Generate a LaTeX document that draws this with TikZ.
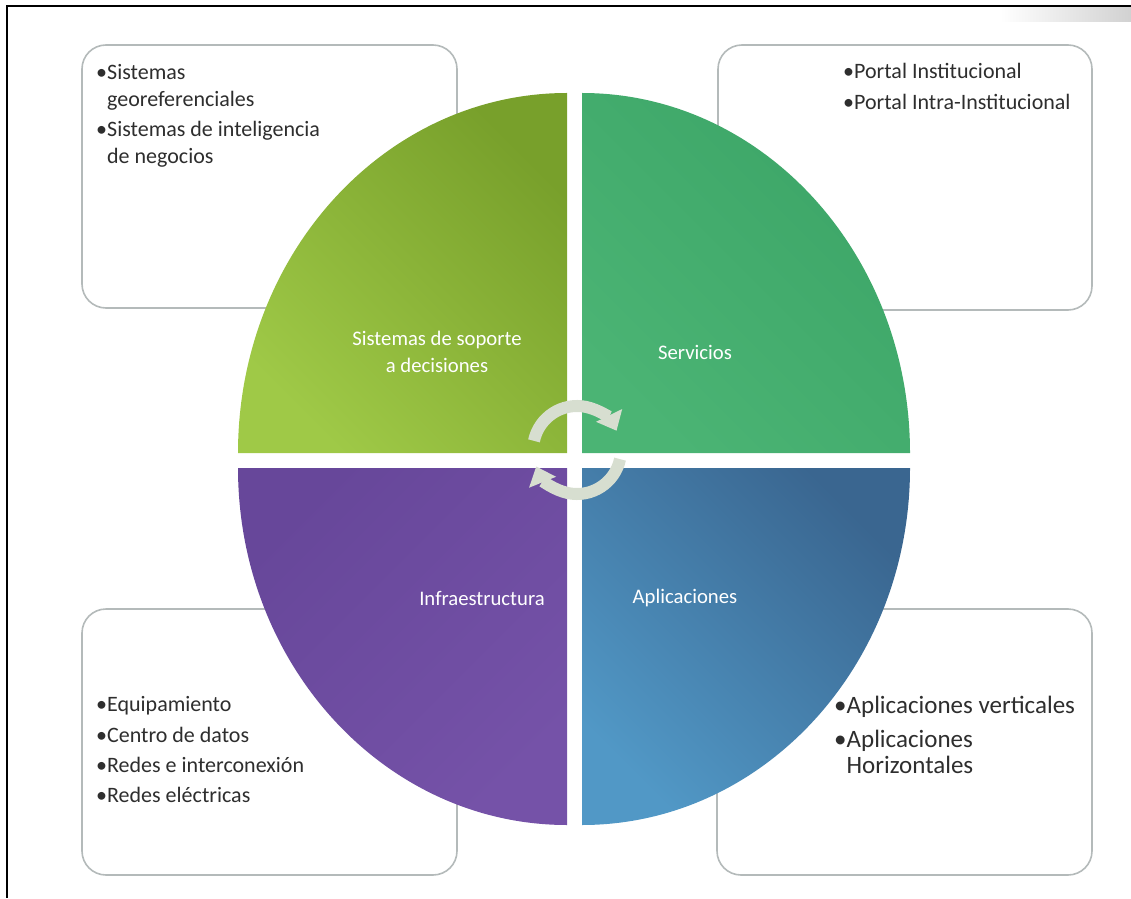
\documentclass[tikz,border=0pt]{standalone}
\usepackage{fontspec}
\setmainfont{Carlito}
\usetikzlibrary{arrows.meta}
\definecolor{tlTop}{HTML}{78A02B}
\definecolor{tlBot}{HTML}{9FC947}
\definecolor{trTop}{HTML}{3CA567}
\definecolor{trBot}{HTML}{4BB474}
\definecolor{blTop}{HTML}{67479A}
\definecolor{blBot}{HTML}{7552A8}
\definecolor{brTop}{HTML}{3A6690}
\definecolor{brBot}{HTML}{5198C6}
\definecolor{boxline}{HTML}{B4BABA}
\definecolor{txt}{HTML}{2E2E2E}
\definecolor{cycfill}{HTML}{D7DED0}
\begin{document}
\begin{tikzpicture}[x=1pt,y=1pt,
  infobox/.style={draw=boxline, line width=1.6pt, fill=white, rounded corners=24pt, inner sep=0pt},
  boxtext/.style={text=txt, align=left, inner sep=0pt, anchor=base west},
  quadlabel/.style={text=white, align=center, inner sep=0pt, font=\fontsize{20.7}{27}\selectfont},
  cyc/.style={draw=cycfill, line width=12pt, -{Triangle[width=28pt,length=17pt]}}
]
\useasboundingbox (0,0) rectangle (1131,898);
% frame
\shade[left color=white, right color=black!18] (1000,876) rectangle (1131,890);
\draw[line width=2.5pt] (1131,892) -- (7,892) -- (7,0);

% boxes
\node[infobox, minimum width=375pt, minimum height=263pt] (boxTL) at (269.5,721.5) {};
\node[infobox, minimum width=374pt, minimum height=265pt] (boxTR) at (905,720.5) {};
\node[infobox, minimum width=375pt, minimum height=266pt] (boxBL) at (269.5,156) {};
\node[infobox, minimum width=375pt, minimum height=266pt] (boxBR) at (904.5,156) {};

% quadrants
\shade[top color=tlTop, bottom color=tlBot, shading angle=-45]
  (567,445) -- (238,445) arc[start angle=180, end angle=90, x radius=329, y radius=360] -- cycle;
\shade[top color=trTop, bottom color=trBot, shading angle=-45]
  (582,445) -- (582,805) arc[start angle=90, end angle=0, x radius=328, y radius=360] -- cycle;
\shade[top color=blTop, bottom color=blBot, shading angle=45]
  (567,430) -- (238,430) arc[start angle=180, end angle=270, x radius=329, y radius=357] -- cycle;
\shade[top color=brTop, bottom color=brBot, shading angle=-45]
  (582,430) -- (910,430) arc[start angle=0, end angle=-90, x radius=328, y radius=357] -- cycle;

% quadrant labels
\node[quadlabel] (qTL) at (437,546) {Sistemas de soporte\\a decisiones};
\node[quadlabel] (qTR) at (695,546) {Servicios};
\node[quadlabel] (qBL) at (482,300) {Infraestructura};
\node[quadlabel] (qBR) at (685,300) {Aplicaciones};

% cycle arrows
\coordinate (cc) at (577,448);
\draw[cyc] ([shift={(168:44)}]cc) arc[start angle=168, end angle=26, radius=44];
\draw[cyc] ([shift={(-12:44)}]cc) arc[start angle=-12, end angle=-158, radius=44];

% box texts (anchored at the baseline of the last line)
\node[boxtext, font=\fontsize{22}{27}\selectfont] (tTL) at (96,734)
  {•Sistemas\\\phantom{•}georeferenciales\\[3pt]•Sistemas de inteligencia\\\phantom{•}de negocios};
\node[boxtext, font=\fontsize{22}{27}\selectfont] (tTR) at (843,788)
  {•Portal Institucional\\[4pt]•Portal Intra-Institucional};
\node[boxtext, font=\fontsize{22}{27}\selectfont] (tBL) at (96,96)
  {•Equipamiento\\[4pt]•Centro de datos\\[3pt]•Redes e interconexión\\[3pt]•Redes eléctricas};
\node[boxtext, font=\fontsize{25}{26}\selectfont] (tBR) at (834,125)
  {•Aplicaciones verticales\\[8pt]•Aplicaciones\\\phantom{•}Horizontales};
\end{tikzpicture}
\end{document}
